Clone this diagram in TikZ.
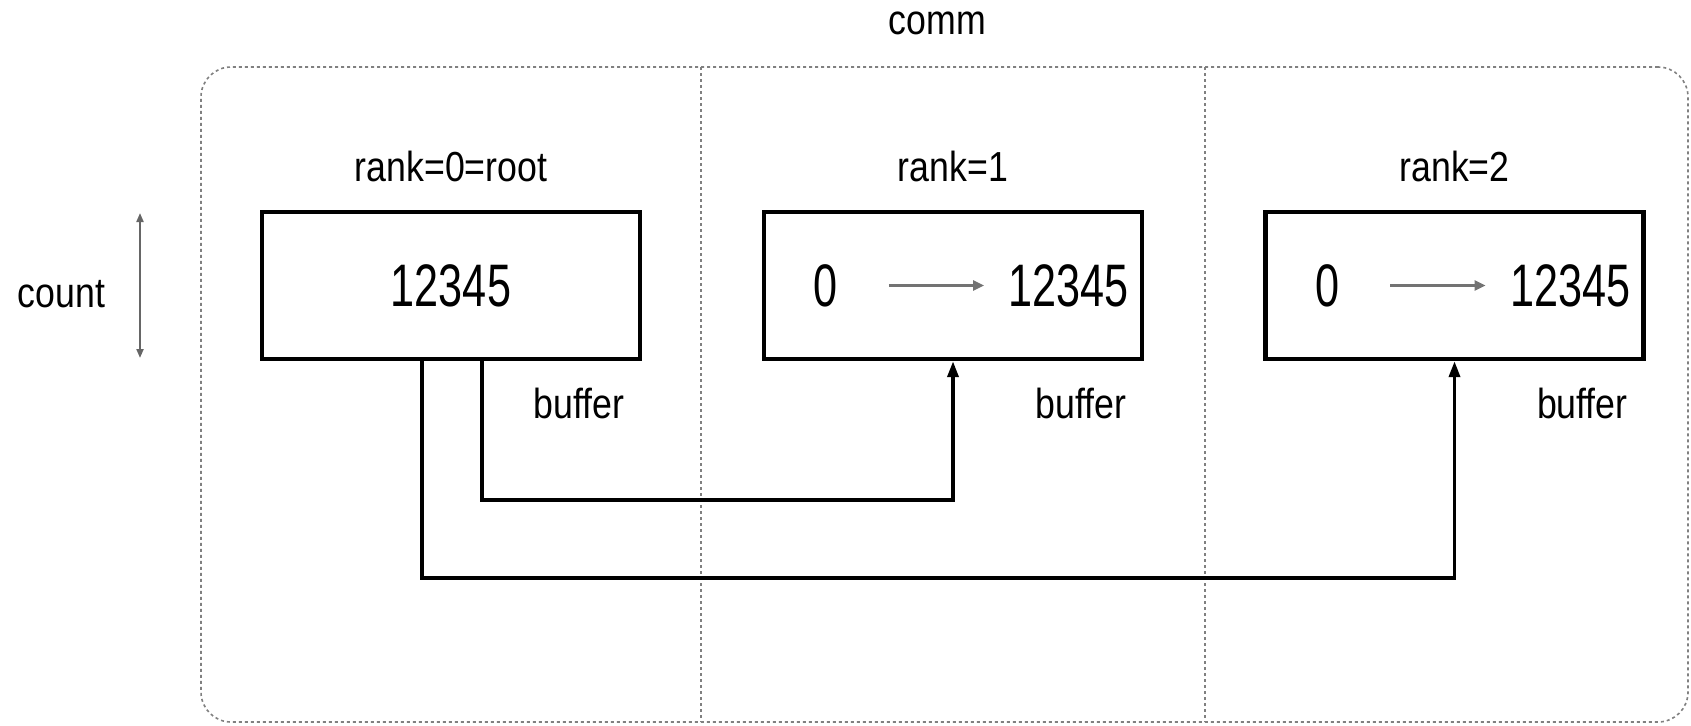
\documentclass[tikz,border=0pt]{standalone}
\usepackage{fontspec}
\setmainfont{Liberation Sans}
\usetikzlibrary{arrows.meta, positioning}
\newcommand*{\numtxt}[1]{\scalebox{0.72}[1]{#1}}
\newcommand*{\lbltxt}[1]{\scalebox{0.85}[1]{#1}}

\begin{document}
\begin{tikzpicture}[x=0.5pt,y=0.5pt,>={Triangle[length=8pt,width=5.5pt]},
      every node/.style={font=\fontsize{21pt}{24pt}\selectfont},
      rankbox/.style={draw,line width=2.2pt,minimum width=189pt,minimum height=73.5pt},
      big/.style={font=\fontsize{30pt}{34pt}\selectfont},
      divider/.style={gray,line width=0.8pt,dash pattern=on 1.5pt off 1.5pt},
      conn/.style={->,line width=1.8pt},
      move/.style={-{Triangle[length=5.5pt,width=5pt]},line width=1.3pt,black!55,
        shorten <=22pt,shorten >=8.7pt}]
      \useasboundingbox (0,0) rectangle (1691,-725);
      \node[draw, divider, rounded corners=15pt, minimum width=743.5pt,
        minimum height=327.5pt] (frame) at (944.5,-394.5) {};
      \node (comm) [above=12pt of frame, xshift=-3.5pt] {\lbltxt{comm}};
      \foreach \x in {701,1205}
        \draw[divider] (\x,-67) -- (\x,-722);
      \node[rankbox, big] (b_0) at (451,-285.5) {\numtxt{12345}};
      \node[rankbox] (b_1) at (953,-285.5) {};
      \node[rankbox] (b_2) at (1454.5,-285.5) {};
      \node (r_0) [above=10.5pt of b_0] {\lbltxt{rank=0=root}};
      \node (r_1) [above=10.5pt of b_1] {\lbltxt{rank=1}};
      \node (r_2) [above=10.5pt of b_2] {\lbltxt{rank=2}};
      \node (buf_0) [below left=9.8pt and 5.5pt of b_0.south east] {\lbltxt{buffer}};
      \node (buf_1) [below left=9.8pt and 5.5pt of b_1.south east] {\lbltxt{buffer}};
      \node (buf_2) [below left=9.8pt and 5.5pt of b_2.south east] {\lbltxt{buffer}};
      \node[big] (z_1) at ([xshift=32pt]b_1.west) {\numtxt{0}};
      \node[big] (n_1) [right=78.3pt of z_1] {\numtxt{12345}};
      \node[big] (z_2) at ([xshift=32pt]b_2.west) {\numtxt{0}};
      \node[big] (n_2) [right=78.3pt of z_2] {\numtxt{12345}};
      \draw[move] (z_1) -- (n_1);
      \draw[move] (z_2) -- (n_2);
      \node[anchor=base] (count) at (61.5,-307) {\lbltxt{count}};
      \coordinate (c_top) at (140,-213);
      \coordinate (c_bot) at (140,-358);
      \draw[{Triangle[length=4.5pt,width=3.5pt]}-{Triangle[length=4.5pt,width=3.5pt]},
        line width=1pt,black!60] (c_top) -- (c_bot);
      \coordinate (lvl_1) at (0,-500);
      \coordinate (lvl_2) at (0,-578);
      \draw[conn] ([xshift=15.5pt]b_0.south) |- (b_1.south |- lvl_1) -- (b_1.south);
      \draw[conn] ([xshift=-14.5pt]b_0.south) |- (b_2.south |- lvl_2) -- (b_2.south);
    \end{tikzpicture}
\end{document}
